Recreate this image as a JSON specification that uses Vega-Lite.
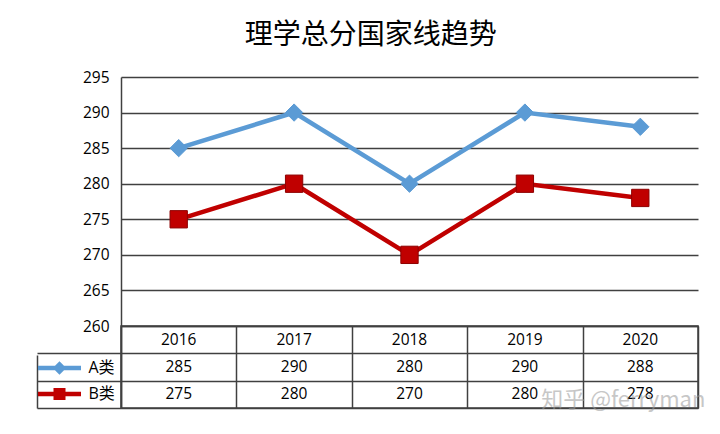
{
  "$schema": "https://vega.github.io/schema/vega-lite/v6.json",
  "padding": {"left": 35, "top": 22, "right": 22, "bottom": 20},
  "background": "white",
  "title": {"text": "理学总分国家线趋势", "font": "Noto Sans CJK SC", "fontSize": 28, "fontWeight": "normal", "color": "#000000", "anchor": "middle", "offset": 20},
  "config": {"font": "Open Sans"},
  "datasets": {
    "scores": [
      {"year": "2016", "series": "A类", "value": 285},
      {"year": "2017", "series": "A类", "value": 290},
      {"year": "2018", "series": "A类", "value": 280},
      {"year": "2019", "series": "A类", "value": 290},
      {"year": "2020", "series": "A类", "value": 288},
      {"year": "2016", "series": "B类", "value": 275},
      {"year": "2017", "series": "B类", "value": 280},
      {"year": "2018", "series": "B类", "value": 270},
      {"year": "2019", "series": "B类", "value": 280},
      {"year": "2020", "series": "B类", "value": 278}
    ]
  },
  "spacing": 0,
  "bounds": "flush",
  "vconcat": [
    {
      "width": 577,
      "height": 249,
      "view": {"stroke": null},
      "data": {"name": "scores"},
      "encoding": {
        "x": {"field": "year", "type": "ordinal", "scale": {"type": "point", "padding": 0.5}, "axis": null},
        "y": {
          "field": "value", "type": "quantitative",
          "scale": {"domain": [260, 295], "nice": false, "zero": false},
          "axis": {"values": [260, 265, 270, 275, 280, 285, 290, 295], "grid": true, "gridColor": "#404040", "gridWidth": 1.5, "domain": true, "domainColor": "#404040", "domainWidth": 1.5, "ticks": false, "tickSize": 0, "labelPadding": 12, "labelFont": "Open Sans", "labelFontSize": 15.5, "labelColor": "#000000", "title": null}
        },
        "color": {
          "field": "series", "type": "nominal",
          "scale": {"domain": ["A类", "B类"], "range": ["#5b9bd5", "#c00000"]},
          "legend": {
            "orient": "none", "legendX": -69.5, "legendY": 283, "title": null, "padding": 0,
            "symbolSize": 100, "labelOffset": 21, "rowPadding": 10, "symbolOpacity": 1, "symbolStrokeWidth": 0,
            "labelFont": "Open Sans, Noto Sans CJK SC", "labelFontSize": 16, "labelColor": "#000000"
          }
        }
      },
      "layer": [
        {"mark": {"type": "line", "strokeWidth": 4.5}},
        {
          "mark": {"type": "point", "filled": true, "opacity": 1, "size": 300, "strokeWidth": 1},
          "encoding": {
            "shape": {"condition": {"test": "datum.series === 'A类'", "value": "diamond"}, "value": "square"},
            "stroke": {"condition": {"test": "datum.series === 'A类'", "value": "#5b9bd5"}, "value": "#8e0000"}
          }
        },
        {
          "mark": {"type": "point", "filled": true, "opacity": 0, "size": 1},
          "encoding": {
            "shape": {
              "field": "series", "type": "nominal",
              "scale": {"domain": ["A类", "B类"], "range": ["M-4.3,-0.45H4.3V0.45H-4.3Z M0,-1.35L1.35,0L0,1.35L-1.35,0Z", "M-4.3,-0.45H4.3V0.45H-4.3Z M-1.2,-1.2H1.2V1.2H-1.2Z"]},
              "legend": {
                "orient": "none", "legendX": -69.5, "legendY": 283, "title": null, "padding": 0,
                "symbolSize": 100, "labelOffset": 21, "rowPadding": 10, "symbolOpacity": 1, "symbolStrokeWidth": 0,
                "labelFont": "Open Sans, Noto Sans CJK SC", "labelFontSize": 16, "labelColor": "#000000"
              }
            }
          }
        }
      ]
    },
    {
      "width": 577,
      "height": 82,
      "view": {"stroke": "#404040", "strokeWidth": 1.5},
      "data": {"name": "scores"},
      "encoding": {
        "x": {
          "field": "year", "type": "ordinal",
          "scale": {"type": "band", "paddingInner": 0, "paddingOuter": 0},
          "axis": {"labels": false, "ticks": false, "domain": false, "grid": true, "tickBand": "extent", "gridColor": "#404040", "gridWidth": 1.5, "gridOpacity": 1, "title": null}
        }
      },
      "layer": [
        {
          "mark": {"type": "text", "font": "Open Sans", "fontSize": 15.5, "color": "#000000", "baseline": "middle", "align": "center"},
          "encoding": {
            "y": {
              "field": "series", "type": "nominal",
              "scale": {"type": "band", "domain": ["年份", "A类", "B类"], "paddingInner": 0, "paddingOuter": 0},
              "axis": {"labels": false, "domain": true, "domainColor": "#404040", "domainWidth": 1.5, "grid": true, "gridColor": "#404040", "gridWidth": 1.5, "gridOpacity": 1, "ticks": true, "tickBand": "extent", "tickSize": 84, "tickWidth": 1.5, "tickColor": "#404040", "tickOpacity": {"condition": {"test": "datum.value == null", "value": 0}, "value": 1}, "title": null}
            },
            "text": {"field": "value", "type": "quantitative"}
          }
        },
        {
          "transform": [{"filter": "datum.series === 'A类'"}],
          "mark": {"type": "text", "font": "Open Sans", "fontSize": 15.5, "color": "#000000", "baseline": "middle", "align": "center"},
          "encoding": {
            "y": {"datum": "年份", "type": "nominal", "axis": {"orient": "left", "offset": 84, "labels": false, "ticks": false, "grid": false, "domain": true, "domainColor": "#404040", "domainWidth": 1.5, "domainDash": [0, 29, 53, 0], "title": null}},
            "text": {"field": "year", "type": "nominal"}
          }
        },
        {
          "data": {"values": [{"t": "知乎 @ferryman"}]},
          "mark": {"type": "text", "font": "Noto Sans CJK SC", "fontSize": 22, "color": "#9a9a9a", "opacity": 0.55, "baseline": "middle", "align": "center", "dx": -17, "dy": 6},
          "encoding": {
            "x": {"datum": "2020", "type": "ordinal"},
            "y": {"datum": "B类", "type": "nominal", "axis": null},
            "text": {"field": "t", "type": "nominal"}
          }
        }
      ],
      "resolve": {"axis": {"y": "independent"}}
    }
  ]
}
